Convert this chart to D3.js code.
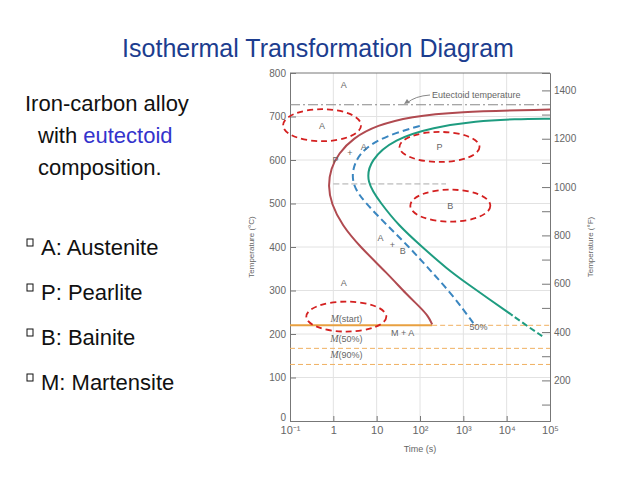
<!DOCTYPE html><html><head><meta charset="utf-8"><script src="https://cdn.jsdelivr.net/npm/d3@7/dist/d3.min.js"></script>
<style>body{margin:0;background:#fff}</style></head><body><svg id="c" width="638" height="479"></svg>
<script>
const startCurve=[[2.28,222],[2.2,240],[2.0,262],[1.7,290],[1.24,340],[0.62,400],[0.2,450],[-0.05,500],[-0.12,540],[-0.06,580],[0.12,615],[0.45,650],[1.0,680],[1.8,700],[2.8,711],[5,716]];
const halfCurve=[[3.23,225],[2.75,290],[2.23,347],[1.75,400],[1.24,450],[0.75,500],[0.4,545],[0.48,600],[0.85,638],[1.45,663],[2.05,680]];
const endSolid=[[4.1,245],[3.6,280],[3.1,315],[2.62,350],[2.05,400],[1.5,450],[1.1,500],[0.75,550],[0.85,600],[1.4,648],[2.3,675],[3.3,690],[4.2,694],[5,695]];
const endDash=[[4.82,195],[4.38,225],[4.1,245]];
const tempC=[0,100,200,300,400,500,600,700,800];
const tempF=[200,400,600,800,1000,1200,1400];
const timeTicks=["10\u207b\u00b9","1","10","10\u00b2","10\u00b3","10\u2074","10\u2075"];
const msLines=[[220,"M(start)"],[167,"M(50%)"],[130,"M(90%)"]];
const ellipses=[[-0.26,680,39,16],[2.45,630,40,15],[2.7,495,40,16],[0.3,240,40,15]];
const svg=d3.select("#c");
const x=d3.scaleLinear().domain([-1,5]).range([290,550]);
const y=d3.scaleLinear().domain([0,800]).range([421,73]);
const yF=d3.scaleLinear().domain([32,1472]).range([421,73]);
const gray="#777";
svg.append("text").attr("x",318).attr("y",57).attr("text-anchor","middle").attr("font-family","Liberation Sans, Arial").attr("font-size",25).attr("fill","#1c3d8f").text("Isothermal Transformation Diagram");
const lf="Liberation Sans, Arial";
function t(xx,yy,s,sz){return svg.append("text").attr("x",xx).attr("y",yy).attr("font-family",lf).attr("font-size",sz||22).attr("fill","#111").text(s);}
t(25,111,"Iron-carbon alloy");
const w=t(38,143,"with ");w.append("tspan").attr("fill","#3333cc").text("eutectoid");
t(38,175,"composition.");
["A: Austenite","P: Pearlite","B: Bainite","M: Martensite"].forEach((s,i)=>{
 svg.append("rect").attr("x",27).attr("y",239+i*45).attr("width",6).attr("height",7).attr("fill","none").attr("stroke","#111").attr("stroke-width",1);
 t(41,255+i*45,s);
});
const g=svg.append("g");
d3.range(0,5).forEach(d=>g.append("line").attr("x1",x(d)).attr("x2",x(d)).attr("y1",y(0)).attr("y2",y(800)).attr("stroke","#e2e2e2"));
tempC.slice(1,8).forEach(d=>g.append("line").attr("x1",x(-1)).attr("x2",x(5)).attr("y1",y(d)).attr("y2",y(d)).attr("stroke","#e2e2e2"));
const ax=svg.append("g").attr("transform",`translate(0,${y(0)})`).call(d3.axisBottom(x).tickValues(d3.range(-1,6)).tickFormat((d,i)=>timeTicks[i]).tickSize(-5).tickPadding(5));
const ay=svg.append("g").attr("transform",`translate(${x(-1)},0)`).call(d3.axisLeft(y).tickValues(tempC).tickSize(-6).tickPadding(4));
const aF=svg.append("g").attr("transform",`translate(${x(5)},0)`).call(d3.axisRight(yF).tickValues(d3.range(100,1500,100)).tickFormat(d=>tempF.includes(d)?d:"").tickSize(-8).tickPadding(4));
svg.append("line").attr("x1",x(-1)).attr("x2",x(5)).attr("y1",y(800)).attr("y2",y(800)).attr("stroke",gray);
[ax,ay,aF].forEach(a=>{a.selectAll("path,line").attr("stroke",gray);a.selectAll("text").attr("fill","#666").attr("font-size",10).attr("font-family",lf);});
ax.selectAll("text").attr("font-size",11);
ay.selectAll(".tick").filter(d=>d===0).select("text").attr("dy","-0.1em");
svg.append("text").attr("x",420).attr("y",452).attr("text-anchor","middle").attr("font-family",lf).attr("font-size",9).attr("fill","#666").text("Time (s)");
svg.append("text").attr("transform",`translate(254,247) rotate(-90)`).attr("text-anchor","middle").attr("font-family",lf).attr("font-size",8).attr("fill","#666").text("Temperature (°C)");
svg.append("text").attr("transform",`translate(593,247) rotate(-90)`).attr("text-anchor","middle").attr("font-family",lf).attr("font-size",8).attr("fill","#666").text("Temperature (°F)");
svg.append("line").attr("x1",x(-1)).attr("x2",x(5)).attr("y1",y(727)).attr("y2",y(727)).attr("stroke","#888").attr("stroke-dasharray","10,3,2,3");
svg.append("text").attr("x",432).attr("y",98).attr("font-family",lf).attr("font-size",9).attr("fill","#666").text("Eutectoid temperature");
svg.append("path").attr("d",`M430,95 Q415,96 407,103`).attr("fill","none").attr("stroke","#888");
svg.append("path").attr("d","M404,104 l6,-1 l-3,-4z").attr("fill","#888");
svg.append("line").attr("x1",x(0)).attr("x2",x(2.6)).attr("y1",y(545)).attr("y2",y(545)).attr("stroke","#aaa").attr("stroke-dasharray","6,3");
const orange="#f0b060";
svg.append("line").attr("x1",x(-1)).attr("x2",x(2.28)).attr("y1",y(220)).attr("y2",y(220)).attr("stroke","#e8a040").attr("stroke-width",2);
svg.append("line").attr("x1",x(2.28)).attr("x2",x(5)).attr("y1",y(220)).attr("y2",y(220)).attr("stroke",orange).attr("stroke-dasharray","5,3");
msLines.slice(1).forEach(m=>svg.append("line").attr("x1",x(-1)).attr("x2",x(5)).attr("y1",y(m[0])).attr("y2",y(m[0])).attr("stroke",orange).attr("stroke-dasharray","5,3"));
const lab=[[0.3,228],[0.3,181],[0.3,144]];
msLines.forEach((m,i)=>{const tx=svg.append("text").attr("x",x(lab[i][0])).attr("y",y(lab[i][1])).attr("text-anchor","middle").attr("font-family","Liberation Serif, serif").attr("font-size",10).attr("fill","#666");
 tx.append("tspan").attr("font-style","italic").text("M");tx.append("tspan").attr("font-family",lf).attr("font-size",9).text(m[1].slice(1));});
const line=d3.line().x(d=>x(d[0])).y(d=>y(d[1])).curve(d3.curveBasis);
svg.append("path").datum(startCurve).attr("d",line).attr("fill","none").attr("stroke","#b04a50").attr("stroke-width",2);
svg.append("path").datum(halfCurve).attr("d",line).attr("fill","none").attr("stroke","#3a86c0").attr("stroke-width",2).attr("stroke-dasharray","7,4");
svg.append("path").datum(endSolid).attr("d",line).attr("fill","none").attr("stroke","#1e9c80").attr("stroke-width",2);
svg.append("path").datum(endDash).attr("d",line).attr("fill","none").attr("stroke","#1e9c80").attr("stroke-width",2).attr("stroke-dasharray","6,3");
function sl(lx,ly,s){svg.append("text").attr("x",x(lx)).attr("y",y(ly)).attr("text-anchor","middle").attr("font-family",lf).attr("font-size",9).attr("fill","#666").text(s);}
sl(-0.26,672,"A");sl(0.24,766,"A");sl(2.45,622,"P");sl(2.7,488,"B");sl(0.24,311,"A");sl(1.6,195,"M + A");sl(3.35,210,"50%");
sl(0.05,593,"P");sl(0.7,622,"A");sl(1.09,413,"A");sl(1.6,383,"B");sl(0.38,610,"+");sl(1.36,398,"+");
ellipses.forEach(e=>svg.append("ellipse").attr("cx",x(e[0])).attr("cy",y(e[1])).attr("rx",e[2]).attr("ry",e[3]).attr("fill","none").attr("stroke","#d42020").attr("stroke-width",1.8).attr("stroke-dasharray","6,4"));
</script></body></html>
